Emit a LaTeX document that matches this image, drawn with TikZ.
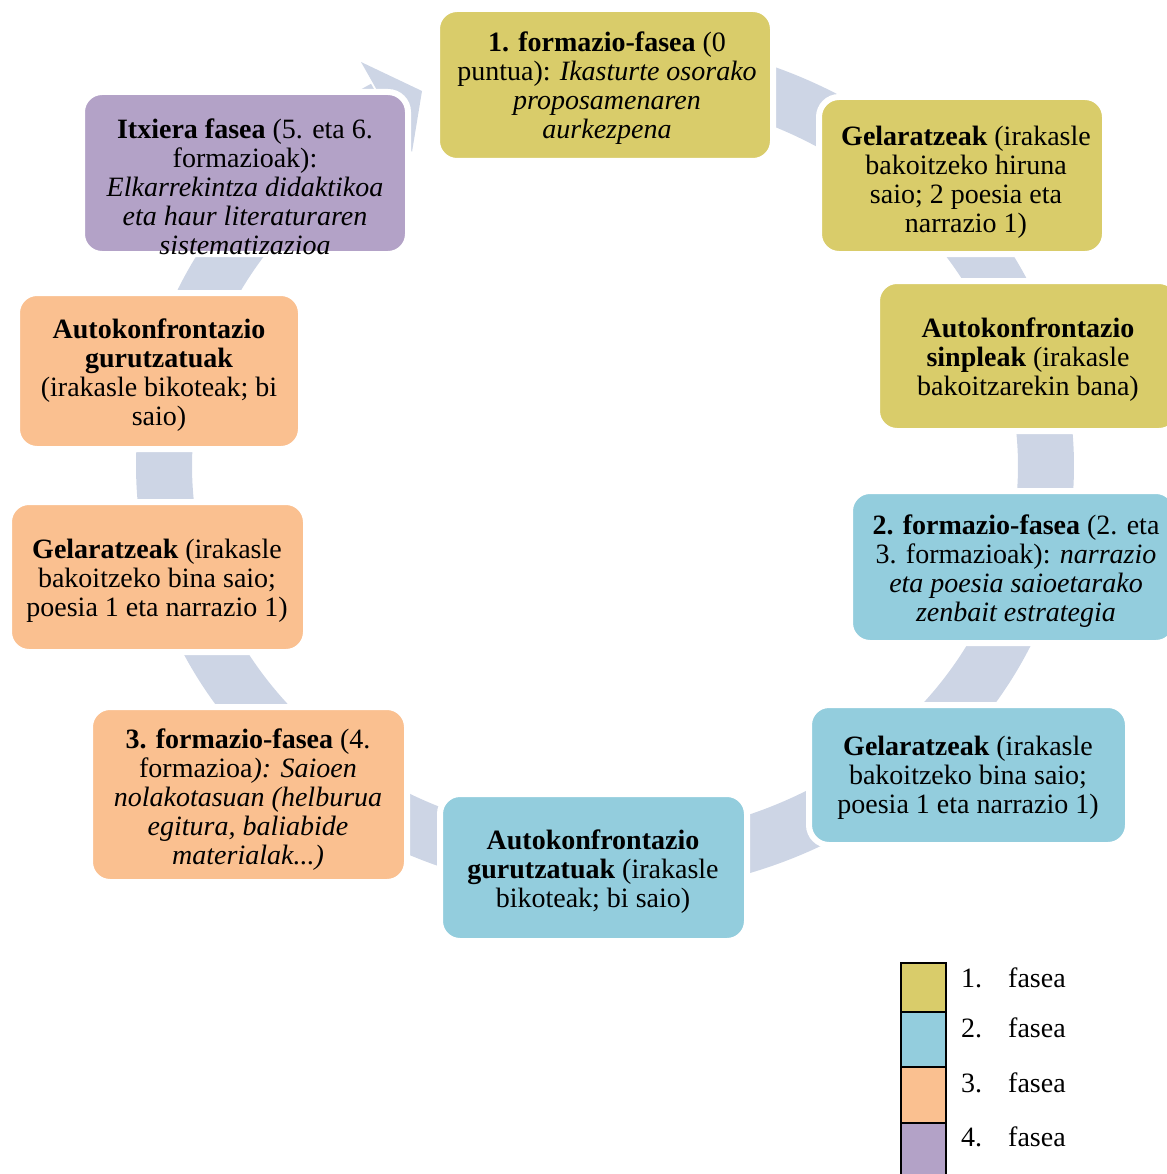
\documentclass[tikz,border=0pt]{standalone}
\usepackage{fontspec}
\setmainfont{Liberation Serif}
\usetikzlibrary{calc}
\definecolor{phaseA}{HTML}{D9CC6A}
\definecolor{phaseB}{HTML}{93CDDD}
\definecolor{phaseC}{HTML}{FAC090}
\definecolor{phaseD}{HTML}{B3A2C7}
\definecolor{ringcol}{HTML}{CDD5E5}
\begin{document}
\begin{tikzpicture}[x=1pt,y=1pt,yscale=-1,
  every node/.style={font=\fontsize{28}{29}\selectfont},
  box/.style={draw=white,line width=6pt,rounded corners=20pt,inner sep=0pt},
  txt/.style={align=center,inner sep=0pt},
  band/.style={draw=ringcol,line width=56pt},
  key/.style={draw=black,line width=2pt,minimum width=45pt,inner sep=0pt,anchor=north west},
  keytext/.style={anchor=base west,inner sep=0pt}]
\useasboundingbox (0,0) rectangle (1166,1174);

% centre of the cycle ring
\coordinate (ring) at (605,466);
\def\ra{441}\def\rb{400}

% ring segments (drawn under the boxes)
\draw[band] ($(ring)+(221.9:\ra\space and 413)$) arc[start angle=221.9,end angle=240,x radius=\ra,y radius=413];
\fill[ringcol] (361,62) coordinate (h1) -- (422,91) coordinate (h2) -- (412,152) coordinate (h3) -- cycle;
\draw[band] ($(ring)+(270:\ra\space and \rb)$) arc[start angle=270,end angle=318.1,x radius=\ra,y radius=\rb];
\draw[band] ($(ring)+(318.1:\ra\space and \rb)$) arc[start angle=318.1,end angle=344,x radius=\ra,y radius=\rb];
\draw[band] ($(ring)+(344:\ra\space and \rb)$) arc[start angle=344,end angle=375.3,x radius=\ra,y radius=\rb];
\draw[band] ($(ring)+(375.3:\ra\space and \rb)$) arc[start angle=375.3,end angle=403.2,x radius=\ra,y radius=\rb];
\draw[band] ($(ring)+(403.2:\ra\space and \rb)$) arc[start angle=403.2,end angle=451.5,x radius=\ra,y radius=\rb];
\draw[band] ($(ring)+(451.5:\ra\space and \rb)$) arc[start angle=451.5,end angle=494.5,x radius=\ra,y radius=\rb];
\draw[band] ($(ring)+(494.5:\ra\space and \rb)$) arc[start angle=494.5,end angle=524.7,x radius=\ra,y radius=\rb];
\draw[band] ($(ring)+(524.7:\ra\space and \rb)$) arc[start angle=524.7,end angle=553.2,x radius=\ra,y radius=\rb];
\draw[band] ($(ring)+(553.2:\ra\space and \rb)$) arc[start angle=553.2,end angle=581.9,x radius=\ra,y radius=\rb];

% boxes
\node[box,fill=phaseA,minimum width=336pt,minimum height=152pt] (b1) at (605,85) {};
\node[box,fill=phaseA,minimum width=286pt,minimum height=157pt] (b2) at (962,175.5) {};
\node[box,fill=phaseA,minimum width=302pt,minimum height=150pt] (b3) at (1028,356) {};
\node[box,fill=phaseB,minimum width=326pt,minimum height=152pt] (b4) at (1013,567) {};
\node[box,fill=phaseB,minimum width=319pt,minimum height=140pt] (b5) at (968.5,775) {};
\node[box,fill=phaseB,minimum width=307pt,minimum height=147pt] (b6) at (593.5,867.5) {};
\node[box,fill=phaseC,minimum width=317pt,minimum height=175pt] (b7) at (248.5,794.5) {};
\node[box,fill=phaseC,minimum width=297pt,minimum height=150pt] (b8) at (157.5,577) {};
\node[box,fill=phaseC,minimum width=284pt,minimum height=156pt] (b9) at (159,371) {};
\node[box,fill=phaseD,minimum width=326pt,minimum height=162pt] (b10) at (245,173) {};

% box texts
\node[txt] (t1) at (607,88) {\textbf{1. formazio-fasea} (0\\puntua): \textit{Ikasturte osorako}\\\textit{proposamenaren}\\\textit{aurkezpena}};
\node[txt] (t2) at (966,182) {\textbf{Gelaratzeak} (irakasle\\bakoitzeko hiruna\\saio; 2 poesia eta\\narrazio 1)};
\node[txt] (t3) at (1028,360) {\textbf{Autokonfrontazio}\\\textbf{sinpleak} (irakasle\\bakoitzarekin bana)};
\node[txt] (t4) at (1016,571) {\textbf{2. formazio-fasea} (2. eta\\3. formazioak): \textit{narrazio}\\\textit{eta poesia saioetarako}\\\textit{zenbait estrategia}};
\node[txt] (t5) at (968,778) {\textbf{Gelaratzeak} (irakasle\\bakoitzeko bina saio;\\poesia 1 eta narrazio 1)};
\node[txt] (t6) at (593,872) {\textbf{Autokonfrontazio}\\\textbf{gurutzatuak} (irakasle\\bikoteak; bi saio)};
\node[txt] (t7) at (248,800) {\textbf{3. formazio-fasea} (4.\\formazioa\textit{): Saioen}\\\textit{nolakotasuan (helburua}\\\textit{egitura, baliabide}\\\textit{materialak...)}};
\node[txt] (t8) at (157,581) {\textbf{Gelaratzeak} (irakasle\\bakoitzeko bina saio;\\poesia 1 eta narrazio 1)};
\node[txt] (t9) at (159,375) {\textbf{Autokonfrontazio}\\\textbf{gurutzatuak}\\(irakasle bikoteak; bi\\saio)};
\node[txt] (t10) at (245,187) {\textbf{Itxiera fasea} (5. eta 6.\\formazioak):\\\textit{Elkarrekintza didaktikoa}\\\textit{eta haur literaturaren}\\\textit{sistematizazioa}};

% legend
\node[key,fill=phaseA,minimum height=49pt] (k1) at (900,962) {};
\node[key,fill=phaseB,minimum height=55pt] (k2) at (900,1011) {};
\node[key,fill=phaseC,minimum height=56pt] (k3) at (900,1066) {};
\node[key,fill=phaseD,minimum height=64pt] (k4) at (900,1122) {};
\node[keytext] (l1) at (961,987) {\makebox[47pt][l]{1.}fasea};
\node[keytext] (l2) at (961,1037) {\makebox[47pt][l]{2.}fasea};
\node[keytext] (l3) at (961,1092) {\makebox[47pt][l]{3.}fasea};
\node[keytext] (l4) at (961,1146) {\makebox[47pt][l]{4.}fasea};
\end{tikzpicture}
\end{document}
